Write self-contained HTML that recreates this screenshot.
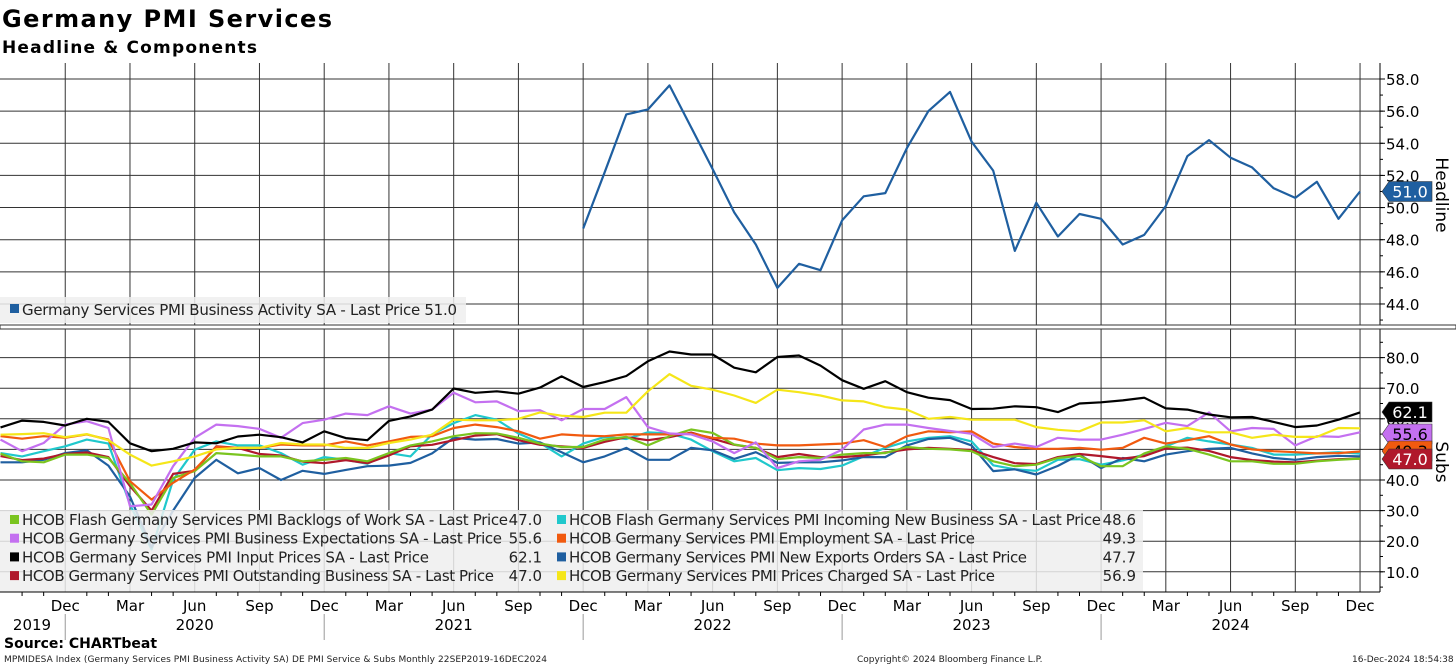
<!DOCTYPE html>
<html><head><meta charset="utf-8"><style>
html,body{margin:0;padding:0;background:#fff;overflow:hidden;}
svg{display:block;font-family:"DejaVu Sans","Liberation Sans",sans-serif;}
</style></head><body>
<svg id="chart" width="1456" height="666" viewBox="0 0 1456 666" xmlns="http://www.w3.org/2000/svg">
<text x="2" y="27" font-size="24" font-weight="bold" fill="#000" textLength="330">Germany PMI Services</text>
<text x="2" y="53" font-size="17" font-weight="bold" fill="#000" textLength="255">Headline &amp; Components</text>
<g id="grid"></g>
<g id="series"></g>
<g id="legends"></g>
<g id="axes"></g>
<text x="4" y="648" font-size="14" font-weight="bold">Source: CHARTbeat</text>
<text x="4" y="662" font-size="9" fill="#222" textLength="543">MPMIDESA Index (Germany Services PMI Business Activity SA) DE PMI Service &amp; Subs  Monthly 22SEP2019-16DEC2024</text>
<text x="857" y="662" font-size="9" fill="#222">Copyright© 2024 Bloomberg Finance L.P.</text>
<text x="1352" y="662" font-size="9" fill="#222">16-Dec-2024 18:54:38</text>
</svg>
<script>
const monthLabels = ["Dec","Mar","Jun","Sep"];
const yearLabels = ["2019","2020","2021","2022","2023","2024"];
const headlineTicks = [44,46,48,50,52,54,56,58];
const subsTicks = [10,20,30,40,50,60,70,80];
const headlineStart = 27; // Dec 2021
const headline = [48.7,52.2,55.8,56.1,57.6,55.0,52.4,49.7,47.7,45.0,46.5,46.1,49.2,50.7,50.9,53.7,56.0,57.2,54.1,52.3,47.3,50.3,48.2,49.6,49.3,47.7,48.3,50.1,53.2,54.2,53.1,52.5,51.2,50.6,51.6,49.3,51.0];
const backlogs = [48.6,46.1,45.8,48.3,48.3,47.2,39,28.7,40.7,42.9,48.8,48.3,47.7,47.7,46.1,46.6,47.2,46.1,48.8,51.3,52.6,54.3,55.3,55.2,53.8,51.9,50.8,50.8,53.2,54.1,51.3,54.3,56.5,55.4,51.6,50.5,46.8,47.5,47.2,48.3,48.8,48.8,50.8,50.2,50.0,49.4,46.1,44.5,45.0,47.2,47.9,44.5,44.5,48.7,51.0,50.2,48.3,46.1,46.1,45.3,45.3,46.1,46.6,47.0];
const expectations = [53.2,49.4,52.1,58.1,59.2,57.0,31.4,32.0,44.5,53.8,58.1,57.6,56.7,53.8,58.6,59.7,61.7,61.2,64.1,61.7,63.0,68.5,65.4,65.7,62.5,62.8,59.5,63.2,63.2,67.1,57.3,55.2,54.9,52.6,48.8,52.3,43.9,46.1,46.6,49.9,56.5,58.1,58.1,57.0,56.0,55.1,50.8,51.9,50.8,53.8,53.2,53.2,54.8,56.7,58.7,57.6,62.1,55.9,57.0,56.7,51.3,54.3,54.1,55.6];
const inputPrices = [57.2,59.4,59.0,57.8,60.0,59.0,52.0,49.4,50.2,52.3,52.0,54.2,54.8,54.0,52.3,55.9,53.7,53.0,59.3,60.8,63.0,69.9,68.5,69.0,68.2,70.2,73.9,70.4,72.0,74.0,78.8,82.0,81.0,81.0,76.7,75.2,80.2,80.7,77.4,72.6,69.8,72.3,68.7,66.9,66.1,63.2,63.3,64.1,63.8,62.2,65.0,65.4,66.0,66.9,63.4,63.0,61.4,60.5,60.6,59.0,57.3,57.8,59.7,62.1];
const outstanding = [47.8,46.5,47.0,48.5,49.0,47.5,38.0,30.0,42.0,43.0,51.0,50.5,48.5,48.0,46.0,45.5,46.5,45.5,48.0,51.0,51.5,53.0,54.5,55.0,53.0,51.5,51.0,50.5,52.5,54.0,53.0,54.0,55.5,53.5,51.5,50.5,47.5,48.5,47.5,47.5,48.0,49.0,50.0,50.5,50.2,49.8,47.5,45.5,45.2,47.5,48.5,47.8,47.0,47.8,50.3,50.6,49.5,47.5,46.5,46.0,45.8,46.3,46.8,47.0];
const incoming = [48.8,47.7,49.4,51.0,53.2,51.9,32.0,17.3,40.0,49.9,52.6,51.3,51.3,48.8,45.0,47.5,46.6,45.3,48.8,47.7,54.9,58.6,61.2,59.7,55.2,52.1,47.7,51.9,54.1,53.4,55.6,55.2,53.2,49.4,46.1,47.2,43.2,43.9,43.6,44.7,47.7,50.5,52.6,53.8,54.3,52.6,44.8,43.5,43.0,46.6,46.8,45.0,46.4,48.3,51.0,53.8,52.6,51.6,50.5,48.3,48.3,48.7,49.1,48.6];
const employment = [54.3,53.5,54.3,53.8,54.9,53.2,39.6,33.6,39.1,43.4,50.8,50.5,50.5,51.6,51.3,51.3,52.6,51.3,52.6,54.1,54.3,57.0,58.1,57.3,55.9,53.5,54.9,54.5,54.3,54.9,54.9,54.9,55.2,53.8,53.5,51.9,51.3,51.3,51.6,51.9,53.0,50.8,54.3,55.9,55.6,55.9,51.9,50.8,50.2,50.2,50.5,49.9,50.5,53.8,51.9,53.0,54.3,51.6,50.0,49.4,49.1,48.7,48.8,49.3];
const exportsOrders = [45.8,45.8,46.6,48.8,49.7,44.7,34.6,18.0,30.0,40.7,46.6,42.2,43.9,40.0,43.0,42.0,43.3,44.5,44.7,45.6,48.7,53.8,53.2,53.4,51.9,52.3,49.1,45.8,47.7,50.5,46.6,46.6,50.5,49.7,46.9,49.1,45.6,45.8,45.8,46.4,47.5,47.5,51.3,53.4,53.8,51.3,42.9,43.5,41.8,44.6,48.3,43.9,47.2,46.1,48.3,49.4,50.2,50.5,48.7,47.2,46.6,47.5,47.9,47.7];
const pricesCharged = [54.8,55.0,55.3,54.0,55.0,53.0,48.3,44.7,46.1,47.7,50.0,50.5,50.5,52.1,51.6,51.6,50.5,50.5,52.1,53.2,54.8,59.7,59.5,59.5,60.0,62.1,61.0,60.6,62.0,62.0,69.0,74.6,70.8,69.5,67.6,65.2,69.5,68.7,67.6,66.0,65.7,63.8,63.0,60.0,60.6,59.7,59.7,59.7,57.3,56.4,55.9,58.8,58.8,59.5,55.9,57.0,55.6,55.6,53.8,54.8,54.1,54.1,57.0,56.9];

const NS = "http://www.w3.org/2000/svg";
const plotLeft = 0, plotRight = 1380;
const topY0 = 63, botY1 = 592;
function xScale(i){ return 0.5 + i * 21.58; }
function yTop(v){ return 79 + (58 - v) * 16.07; }
function yBot(v){ return 480 + (40 - v) * 3.06; }
function mk(tag, attrs, parent){
  const e = document.createElementNS(NS, tag);
  for (const k in attrs) e.setAttribute(k, attrs[k]);
  parent.appendChild(e); return e;
}
const grid = document.getElementById('grid');
const axes = document.getElementById('axes');
const seriesG = document.getElementById('series');
const legends = document.getElementById('legends');

for (let i = 3, q = 0; i < 64; i += 3, q++) {
  const x = xScale(i);
  const l = mk('line', {x1:x, y1:topY0, x2:x, y2:botY1, stroke:'#333', 'stroke-width':1}, grid);
  
  
  const t = mk('text', {x:x, y:611, 'font-size':15, 'text-anchor':'middle', fill:'#000'}, axes);
  t.textContent = monthLabels[q % 4];
  
  
}
for (let i = 0; i < 64; i++) {
  const x = xScale(i);
  if (i % 3 !== 0) mk('line', {x1:x, y1:botY1, x2:x, y2:botY1 + 4, stroke:'#000'}, axes);
}
yearLabels.forEach((y, k) => {
  const endIdx = 3 + 12 * k;
  const startIdx = k === 0 ? 0 : 3 + 12 * (k - 1);
  if (k < 5) {
    const sx = xScale(endIdx);
    mk('line', {x1:sx, y1:614, x2:sx, y2:640, stroke:'#999'}, axes);
  }
  const cx = k === 0 ? 32 : (xScale(startIdx) + xScale(Math.min(endIdx, 63))) / 2;
  const t = mk('text', {x:cx, y:630, 'font-size':15, 'text-anchor':'middle', fill:'#000'}, axes);
  t.textContent = y;
  
  
});
headlineTicks.forEach(v => {
  const y = yTop(v);
  mk('line', {x1:plotLeft, y1:y, x2:plotRight, y2:y, stroke:'#333'}, grid);
  mk('line', {x1:plotRight, y1:y, x2:plotRight + 5, y2:y, stroke:'#000'}, axes);
  const t = mk('text', {x:1386, y:y + 6, 'font-size':15, fill:'#000'}, axes);
  t.textContent = v.toFixed(1);
  
  
});
for (let v = 43; v <= 58; v += 1) mk('line', {x1:plotRight, y1:yTop(v), x2:plotRight + 3, y2:yTop(v), stroke:'#000'}, axes);
subsTicks.forEach(v => {
  const y = yBot(v);
  mk('line', {x1:plotLeft, y1:y, x2:plotRight, y2:y, stroke:'#333'}, grid);
  mk('line', {x1:plotRight, y1:y, x2:plotRight + 5, y2:y, stroke:'#000'}, axes);
  const t = mk('text', {x:1386, y:y + 6, 'font-size':15, fill:'#000'}, axes);
  t.textContent = v.toFixed(1);
  
  
});
for (let v = 5; v <= 85; v += 5) mk('line', {x1:plotRight, y1:yBot(v), x2:plotRight + 3, y2:yBot(v), stroke:'#000'}, axes);
mk('line', {x1:plotRight, y1:topY0, x2:plotRight, y2:botY1, stroke:'#000'}, axes);
mk('line', {x1:0, y1:botY1, x2:plotRight, y2:botY1, stroke:'#000'}, axes);
mk('rect', {x:0, y:325, width:1456, height:4, fill:'#fff', stroke:'#333', 'stroke-width':1}, axes);
const r1 = mk('text', {x:1436, y:195, 'font-size':17, fill:'#000', transform:'rotate(90 1436 195)', 'text-anchor':'middle'}, axes);
r1.textContent = 'Headline';


const r2 = mk('text', {x:1436, y:462, 'font-size':17, fill:'#000', transform:'rotate(90 1436 462)', 'text-anchor':'middle'}, axes);
r2.textContent = 'Subs';



function drawLine(arr, offset, color, yfn, name){
  const pts = arr.map((v, i) => xScale(i + offset).toFixed(1) + ',' + yfn(v).toFixed(1)).join(' ');
  const p = mk('polyline', {points:pts, fill:'none', stroke:color, 'stroke-width':2.2, 'stroke-linejoin':'round'}, seriesG);
  
  
}
const subsSeries = [
  [incoming, '#20c8cc', 'incoming-new-business-line'],
  [exportsOrders, '#1f5fa0', 'new-export-orders-line'],
  [outstanding, '#b0182b', 'outstanding-business-line'],
  [backlogs, '#7ac41f', 'backlogs-of-work-line'],
  [employment, '#f15a0f', 'employment-line'],
  [expectations, '#c470f0', 'business-expectations-line'],
  [pricesCharged, '#f5e619', 'prices-charged-line'],
  [inputPrices, '#000000', 'input-prices-line']
];
subsSeries.forEach(s => drawLine(s[0], 0, s[1], yBot, s[2]));
drawLine(headline, headlineStart, '#1f5fa0', yTop, 'headline-line');

mk('rect', {x:0, y:297, width:466, height:26, fill:'#eeeeee', 'fill-opacity':0.85}, legends);
mk('rect', {x:10, y:304, width:9, height:9, fill:'#1f5fa0'}, legends);
const tl = mk('text', {x:22, y:315, 'font-size':15, fill:'#222', textLength:435}, legends);
tl.textContent = 'Germany Services PMI Business Activity SA - Last Price 51.0';



mk('rect', {x:0, y:510, width:1143, height:82, fill:'#eeeeee', 'fill-opacity':0.85}, legends);
const legLeft = [
  ['#7ac41f','HCOB Flash Germany Services PMI Backlogs of Work SA - Last Price',486,'47.0'],
  ['#c470f0','HCOB Germany Services PMI Business Expectations SA - Last Price',480,'55.6'],
  ['#000000','HCOB Germany Services PMI Input Prices SA - Last Price',407,'62.1'],
  ['#b0182b','HCOB Germany Services PMI Outstanding Business SA - Last Price',472,'47.0']
];
const legRight = [
  ['#20c8cc','HCOB Flash Germany Services PMI Incoming New Business SA - Last Price',532,'48.6'],
  ['#f15a0f','HCOB Germany Services PMI Employment SA - Last Price',406,'49.3'],
  ['#1f5fa0','HCOB Germany Services PMI New Exports Orders SA - Last Price',458,'47.7'],
  ['#f5e619','HCOB Germany Services PMI Prices Charged SA - Last Price',426,'56.9']
];
function legendCol(list, x0, valX){
  list.forEach((e, k) => {
    const y = 525 + k * 18.7;
    mk('rect', {x:x0, y:y - 10, width:9, height:9, fill:e[0]}, legends);
    const t = mk('text', {x:x0 + 12, y:y, 'font-size':15, fill:'#222', textLength:e[2]}, legends);
    t.textContent = e[1];
    
    
    const v = mk('text', {x:valX, y:y, 'font-size':15, fill:'#222', 'text-anchor':'end'}, legends);
    v.textContent = e[3];
    
    
  });
}
legendCol(legLeft, 10, 542);
legendCol(legRight, 557, 1136);

function tag(y, color, txt, txtColor, name){
  const g = mk('g', {}, axes);
  mk('path', {d:`M1382 ${y} L1389 ${y-10} L1432 ${y-10} L1432 ${y+10} L1389 ${y+10} Z`, fill:color, stroke:'#333', 'stroke-width':0.6}, g);
  const t = mk('text', {x:1410, y:y + 6, 'font-size':16, fill:txtColor, 'text-anchor':'middle'}, g);
  t.textContent = txt;
  
  
}
tag(yTop(headline[headline.length - 1]), '#1f5fa0', headline[headline.length - 1].toFixed(1), '#fff', 'headline-value-tag');
tag(412, '#000', inputPrices[63].toFixed(1), '#fff', 'input-prices-value-tag');
tag(434, '#c470f0', expectations[63].toFixed(1), '#000', 'expectations-value-tag');
tag(451, '#f15a0f', employment[63].toFixed(1), '#000', 'employment-value-tag');
tag(459, '#b0182b', outstanding[63].toFixed(1), '#fff', 'outstanding-value-tag');
</script>
</body></html>
